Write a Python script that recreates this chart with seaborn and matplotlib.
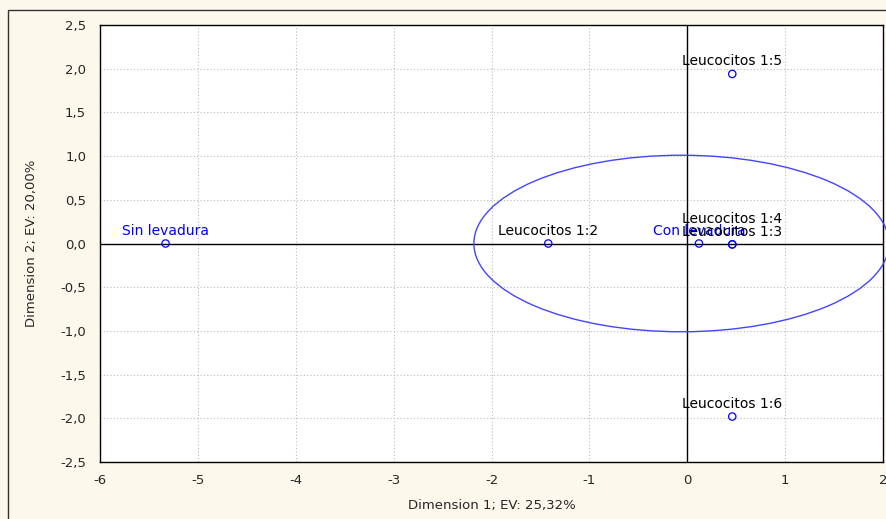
import numpy as np
import pandas as pd
import matplotlib
matplotlib.use('Agg')
import matplotlib.pyplot as plt
import seaborn as sns
from matplotlib.patches import Ellipse, Rectangle
from matplotlib.ticker import MultipleLocator, FuncFormatter

labels = ['Sin levadura', 'Leucocitos 1:2', 'Con levadura', 'Leucocitos 1:3',
          'Leucocitos 1:4', 'Leucocitos 1:5', 'Leucocitos 1:6']
dim1 = [-5.33, -1.42, 0.12, 0.46, 0.46, 0.46, 0.46]
dim2 = [0.0, 0.0, 0.0, -0.01, -0.01, 1.94, -1.98]
label_colors = ['blue', 'black', 'blue', 'black', 'black', 'black', 'black']
label_offsets = [4, 4, 4, 4, 13, 4, 4]

df = pd.DataFrame({'dim1': dim1, 'dim2': dim2, 'label': labels})

sns.set_style('white')
plt.rcParams['font.family'] = ['DejaVu Sans']

fig = plt.figure(figsize=(8.87, 5.19), dpi=100, facecolor='#fdf8ec')
ax = fig.add_axes([100 / 887, 1 - 462 / 519, 783 / 887, 437 / 519])
ax.set_facecolor('white')

# frame border of the picture
fig.patches.append(Rectangle((8 / 887, -0.01), 1.0, 1 - 10 / 519 + 0.01,
                             transform=fig.transFigure, fill=False,
                             edgecolor='#333333', linewidth=1.0))

sns.scatterplot(data=df, x='dim1', y='dim2', ax=ax, s=28, marker='o',
                facecolors='none', edgecolor='blue', linewidth=0.9, zorder=5)

for lab, x, y, c, off in zip(labels, dim1, dim2, label_colors, label_offsets):
    ax.annotate(lab, (x, y), xytext=(0, off), textcoords='offset points',
                ha='center', va='bottom', color=c, fontsize=10, zorder=6)

ax.add_patch(Ellipse((-0.06, 0.0), 4.24, 2.02, fill=False, edgecolor='#4444ff',
                     linewidth=1.0, clip_on=False, zorder=4))

ax.axhline(0, color='black', linewidth=1.0, zorder=2)
ax.axvline(0, color='black', linewidth=1.0, zorder=2)

ax.set_xlim(-6, 2)
ax.set_ylim(-2.5, 2.5)
ax.xaxis.set_major_locator(MultipleLocator(1))
ax.xaxis.set_minor_locator(MultipleLocator(0.25))
ax.yaxis.set_major_locator(MultipleLocator(0.5))
ax.yaxis.set_minor_locator(MultipleLocator(0.1))
ax.yaxis.set_major_formatter(FuncFormatter(lambda v, p: f'{v:.1f}'.replace('.', ',')))
ax.xaxis.set_major_formatter(FuncFormatter(lambda v, p: f'{v:.0f}'))
ax.tick_params(which='both', direction='in', top=False, right=False,
               labelsize=9.5)
ax.tick_params(axis='y', pad=10)
ax.tick_params(axis='x', pad=9)
ax.tick_params(which='major', length=4, width=0.8)
ax.tick_params(which='minor', length=3, width=0.8)
ax.grid(True, which='major', linestyle=(0, (1, 2)), color='#bbbbbb', linewidth=0.8)
for sp in ax.spines.values():
    sp.set_color('black')
    sp.set_linewidth(1.0)

ax.set_xlabel('Dimension 1; EV: 25,32%', fontsize=9.5, labelpad=8)
ax.set_ylabel('Dimension 2; EV: 20,00%', fontsize=9.5, labelpad=16)

fig.savefig('out.png', dpi=100, facecolor=fig.get_facecolor())
